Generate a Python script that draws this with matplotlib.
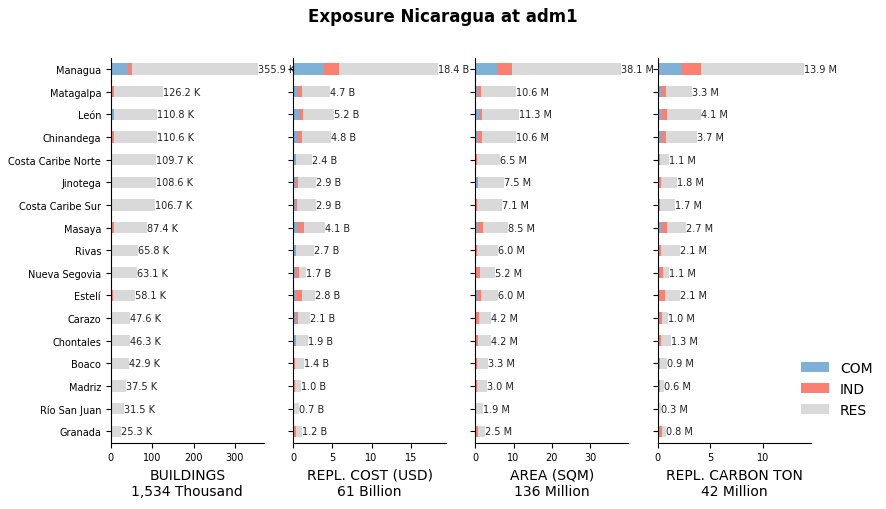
import matplotlib.pyplot as plt
import numpy as np

regions = ["Managua", "Matagalpa", "León", "Chinandega", "Costa Caribe Norte", "Jinotega",
           "Costa Caribe Sur", "Masaya", "Rivas", "Nueva Segovia", "Estelí", "Carazo",
           "Chontales", "Boaco", "Madriz", "Río San Juan", "Granada"]

# totals per panel
bld_total = [355.9, 126.2, 110.8, 110.6, 109.7, 108.6, 106.7, 87.4, 65.8, 63.1, 58.1, 47.6, 46.3, 42.9, 37.5, 31.5, 25.3]
cost_total = [18.4, 4.7, 5.2, 4.8, 2.4, 2.9, 2.9, 4.1, 2.7, 1.7, 2.8, 2.1, 1.9, 1.4, 1.0, 0.7, 1.2]
area_total = [38.1, 10.6, 11.3, 10.6, 6.5, 7.5, 7.1, 8.5, 6.0, 5.2, 6.0, 4.2, 4.2, 3.3, 3.0, 1.9, 2.5]
carb_total = [13.9, 3.3, 4.1, 3.7, 1.1, 1.8, 1.7, 2.7, 2.1, 1.1, 2.1, 1.0, 1.3, 0.9, 0.6, 0.3, 0.8]

bld_com = [42, 4, 5, 4, 3, 2, 2, 4, 2, 2, 3, 2, 2, 1, 1, 1, 2]
bld_ind = [10, 4, 4, 4, 1, 1, 1, 4, 1, 1, 2, 1, 1, 1, 1, 0.5, 1]
cost_com = [3.8, 0.5, 0.7, 0.5, 0.2, 0.3, 0.2, 0.5, 0.2, 0.2, 0.4, 0.2, 0.2, 0.1, 0.1, 0.1, 0.1]
cost_ind = [2.0, 0.6, 0.6, 0.6, 0.2, 0.3, 0.3, 0.9, 0.2, 0.5, 0.7, 0.4, 0.2, 0.1, 0.1, 0.05, 0.3]
area_com = [6.0, 0.7, 1.0, 0.8, 0.3, 0.4, 0.3, 0.8, 0.3, 0.3, 0.7, 0.3, 0.3, 0.2, 0.1, 0.1, 0.3]
area_ind = [3.5, 0.8, 0.8, 0.9, 0.2, 0.3, 0.2, 1.2, 0.2, 0.9, 0.7, 0.6, 0.4, 0.2, 0.3, 0.1, 0.5]
carb_com = [2.2, 0.3, 0.4, 0.3, 0.1, 0.1, 0.1, 0.3, 0.1, 0.1, 0.2, 0.1, 0.1, 0.1, 0.05, 0.05, 0.1]
carb_ind = [1.9, 0.5, 0.5, 0.5, 0.1, 0.2, 0.1, 0.6, 0.2, 0.4, 0.5, 0.3, 0.2, 0.1, 0.2, 0.05, 0.3]

panels = [
    ("BUILDINGS\n1,534 Thousand", bld_total, bld_com, bld_ind, " K", 370, [0, 100, 200, 300]),
    ("REPL. COST (USD)\n61 Billion", cost_total, cost_com, cost_ind, " B", 19.5, [0, 5, 10, 15]),
    ("AREA (SQM)\n136 Million", area_total, area_com, area_ind, " M", 40, [0, 10, 20, 30]),
    ("REPL. CARBON TON\n42 Million", carb_total, carb_com, carb_ind, " M", 14.5, [0, 5, 10]),
]

C_COM, C_IND, C_RES = "#7fb0d5", "#fa8072", "#d9d9d9"

fig, axes = plt.subplots(1, 4, figsize=(8.86, 5.10), dpi=100)
fig.subplots_adjust(left=0.125, right=0.915, top=0.885, bottom=0.13, wspace=0.19)
y = np.arange(len(regions))
for i, (ax, (label, tot, com, ind, unit, xmax, ticks)) in enumerate(zip(axes, panels)):
    tot, com, ind = map(np.array, (tot, com, ind))
    res = tot - com - ind
    ax.barh(y, com, height=0.5, color=C_COM, label="COM")
    ax.barh(y, ind, left=com, height=0.5, color=C_IND, label="IND")
    ax.barh(y, res, left=com + ind, height=0.5, color=C_RES, label="RES")
    for yi, t in zip(y, tot):
        ax.text(t, yi, f"{t:.1f}{unit}", va="center", ha="left", fontsize=7, color="#222222")
    ax.set_xlim(0, xmax)
    ax.set_xticks(ticks)
    ax.set_yticks(y)
    ax.set_yticklabels(regions if i == 0 else [])
    ax.set_ylim(len(regions) - 0.5, -0.5)
    ax.tick_params(axis="x", labelsize=7)
    ax.tick_params(axis="y", labelsize=7)
    ax.set_xlabel(label, fontsize=10)
    ax.spines["top"].set_visible(False)
    ax.spines["right"].set_visible(False)

handles, labels = axes[0].get_legend_handles_labels()
fig.legend(handles, labels, loc="center left", bbox_to_anchor=(0.89, 0.235), frameon=False, fontsize=10)
fig.suptitle("Exposure Nicaragua at adm1", fontsize=12, fontweight="bold", y=0.985)
fig.savefig("out.png", dpi=100)
